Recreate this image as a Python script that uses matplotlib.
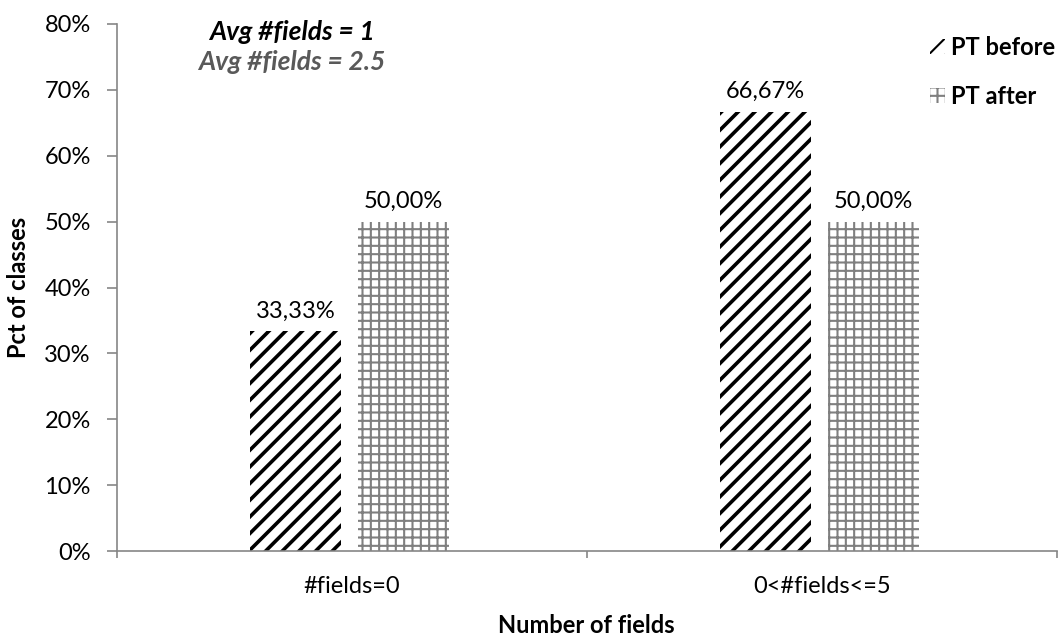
import numpy as np
import matplotlib.pyplot as plt
from matplotlib.ticker import FuncFormatter

plt.rcParams['font.family'] = ['Lato', 'DejaVu Sans']

categories = ['#fields=0', '0<#fields<=5']
pt_before = [33.33, 66.67]
pt_after = [50.00, 50.00]
series_names = ['PT before', 'PT after']
avg_before = 1
avg_after = 2.5

fig = plt.figure(figsize=(10.64, 6.4), dpi=100)
ax = fig.add_axes([0.110, 0.139, 0.883, 0.8235])

x = np.arange(len(categories))
w = 0.194

# hatch width is picked up when each bar container is built
plt.rcParams['hatch.linewidth'] = 2.6
b1 = ax.bar(x - 0.12, pt_before, w, color='white', edgecolor='black',
            linewidth=0, hatch='//', label=series_names[0])
plt.rcParams['hatch.linewidth'] = 1.5
b2 = ax.bar(x + 0.11, pt_after, w, color='white', edgecolor='#7f7f7f',
            linewidth=0, hatch='++', label=series_names[1])

for bars, vals in ((b1, pt_before), (b2, pt_after)):
    for r, v in zip(bars, vals):
        ax.annotate(f'{v:.2f}%'.replace('.', ','),
                    (r.get_x() + r.get_width() / 2, v),
                    xytext=(0, 7), textcoords='offset points',
                    ha='center', va='bottom', fontsize=17)

ax.set_xlim(-0.5, 1.5)
ax.set_ylim(0, 80)
ax.set_yticks(np.arange(0, 81, 10))
ax.yaxis.set_major_formatter(FuncFormatter(lambda v, p: f'{v:.0f}%'))
ax.set_xticks(x)
ax.set_xticklabels(categories, fontsize=17)
ax.set_xticks([-0.5, 0.5, 1.5], minor=True)
ax.tick_params(axis='x', which='major', length=0, pad=18)
ax.tick_params(axis='x', which='minor', length=5, color='#868686', width=1.2)
ax.tick_params(axis='y', length=7, color='#868686', width=1.2,
               labelsize=17, pad=12)

for s in ('top', 'right'):
    ax.spines[s].set_visible(False)
for s in ('left', 'bottom'):
    ax.spines[s].set_color('#868686')
    ax.spines[s].set_linewidth(1.2)

ax.set_ylabel('Pct of classes', fontsize=17, fontweight='bold', labelpad=10)
ax.set_xlabel('Number of fields', fontsize=17, fontweight='bold', labelpad=12)

ax.text(0.186, 0.985, f'Avg #fields = {avg_before}', transform=ax.transAxes,
        ha='center', va='center', fontsize=19, fontweight='bold',
        fontstyle='italic', color='black')
ax.text(0.186, 0.928, f'Avg #fields = {avg_after}', transform=ax.transAxes,
        ha='center', va='center', fontsize=19, fontweight='bold',
        fontstyle='italic', color='#595959')

fig.legend(loc='upper left', bbox_to_anchor=(0.874, 0.944), frameon=False,
           borderpad=0, borderaxespad=0,
           handlelength=0.65, handleheight=0.65, handletextpad=0.25,
           labelspacing=1.1, prop={'weight': 'bold', 'size': 17})

fig.savefig('out.png', dpi=100)
